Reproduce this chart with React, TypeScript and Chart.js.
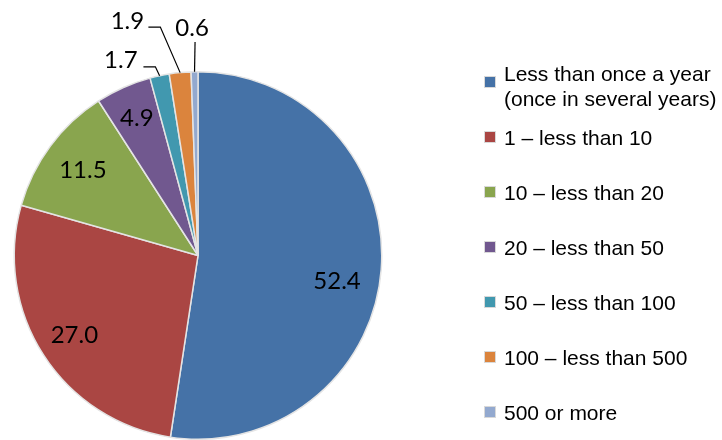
import React, { useEffect, useRef } from "react";
import { Chart, registerables } from "chart.js";

Chart.register(...registerables);

const categories: string[][] = [
  ["Less than once a year", "(once in several years)"],
  ["1 – less than 10"],
  ["10 – less than 20"],
  ["20 – less than 50"],
  ["50 – less than 100"],
  ["100 – less than 500"],
  ["500 or more"],
];
const values = [52.4, 27.0, 11.5, 4.9, 1.7, 1.9, 0.6];
const valueLabels = ["52.4", "27.0", "11.5", "4.9", "1.7", "1.9", "0.6"];
const colors = ["#4572A7", "#AA4643", "#89A54E", "#71588F", "#4198AF", "#DB843D", "#93A9CF"];

// inner label placement (fraction of radius, angle shift in radians)
const innerRadius = [0.77, 0.8, 0.78, 0.82];
const innerShift = [0.11, 0, 0, 0];

// label placement for small slices (relative to pie centre, in radius units)
const outerLabels: Record<number, { text: [number, number]; start: [number, number]; elbow?: [number, number] }> = {
  4: { text: [-0.42, -1.06], start: [-0.297, -1.027], elbow: [-0.232, -1.027] },
  5: { text: [-0.384, -1.276], start: [-0.27, -1.243], elbow: [-0.205, -1.243] },
  6: { text: [-0.032, -1.238], start: [-0.016, -1.162] },
};

const labelPlugin = {
  id: "customLabels",
  afterDraw(chart: any) {
    const ctx = chart.ctx as CanvasRenderingContext2D;
    const meta = chart.getDatasetMeta(0);
    ctx.save();
    ctx.font = "24px Lato, 'Open Sans', sans-serif";
    ctx.fillStyle = "#000";
    ctx.textAlign = "center";
    ctx.textBaseline = "middle";
    meta.data.forEach((arc: any, i: number) => {
      const { x, y, startAngle, endAngle, outerRadius } = arc.getProps(
        ["x", "y", "startAngle", "endAngle", "outerRadius"],
        true
      );
      const mid = (startAngle + endAngle) / 2;
      const r = outerRadius;
      const o = outerLabels[i];
      if (!o) {
        const d = r * (innerRadius[i] ?? 0.8);
        const a = mid + (innerShift[i] ?? 0);
        ctx.fillText(valueLabels[i], x + Math.cos(a) * d, y + Math.sin(a) * d);
      } else {
        ctx.fillText(valueLabels[i], x + o.text[0] * r, y + o.text[1] * r);
        ctx.beginPath();
        ctx.strokeStyle = "#000";
        ctx.lineWidth = 1.2;
        ctx.moveTo(x + o.start[0] * r, y + o.start[1] * r);
        if (o.elbow) ctx.lineTo(x + o.elbow[0] * r, y + o.elbow[1] * r);
        ctx.lineTo(x + Math.cos(mid) * r, y + Math.sin(mid) * r);
        ctx.stroke();
      }
    });
    ctx.restore();

    // legend
    ctx.save();
    ctx.font = "21px 'Liberation Sans', Arial, sans-serif";
    ctx.textAlign = "left";
    ctx.textBaseline = "middle";
    const markerX = 485;
    const textX = 504;
    const lineH = 25;
    let yPos = 75;
    categories.forEach((lines, i) => {
      const markerY = lines.length > 1 ? yPos + 7 : yPos - 2;
      ctx.fillStyle = "#d9d9d9";
      ctx.fillRect(markerX - 1, markerY - 6, 12, 12);
      ctx.fillStyle = colors[i];
      ctx.fillRect(markerX, markerY - 5, 10, 10);
      ctx.fillStyle = "#000";
      lines.forEach((t, j) => ctx.fillText(t, textX, yPos + j * lineH));
      yPos += i === 0 ? 64 : 55;
    });
    ctx.restore();
  },
};

export default function App() {
  const ref = useRef<HTMLCanvasElement | null>(null);
  useEffect(() => {
    if (!ref.current) return;
    const chart = new Chart(ref.current, {
      type: "pie",
      data: {
        labels: categories,
        datasets: [
          {
            data: values,
            backgroundColor: colors,
            borderColor: "#e4e4e4",
            borderWidth: 1.5,
          },
        ],
      },
      options: {
        responsive: false,
        animation: false,
        devicePixelRatio: 1,
        layout: { padding: { left: 12, right: 338, top: 71, bottom: 0 } },
        plugins: {
          legend: { display: false },
          tooltip: { enabled: false },
        },
      },
      plugins: [labelPlugin],
    });
    return () => chart.destroy();
  }, []);
  return (
    <div style={{ position: "fixed", left: 0, top: 0, width: 722, height: 440, background: "#fff" }}>
      <canvas ref={ref} width={722} height={440} />
    </div>
  );
}
